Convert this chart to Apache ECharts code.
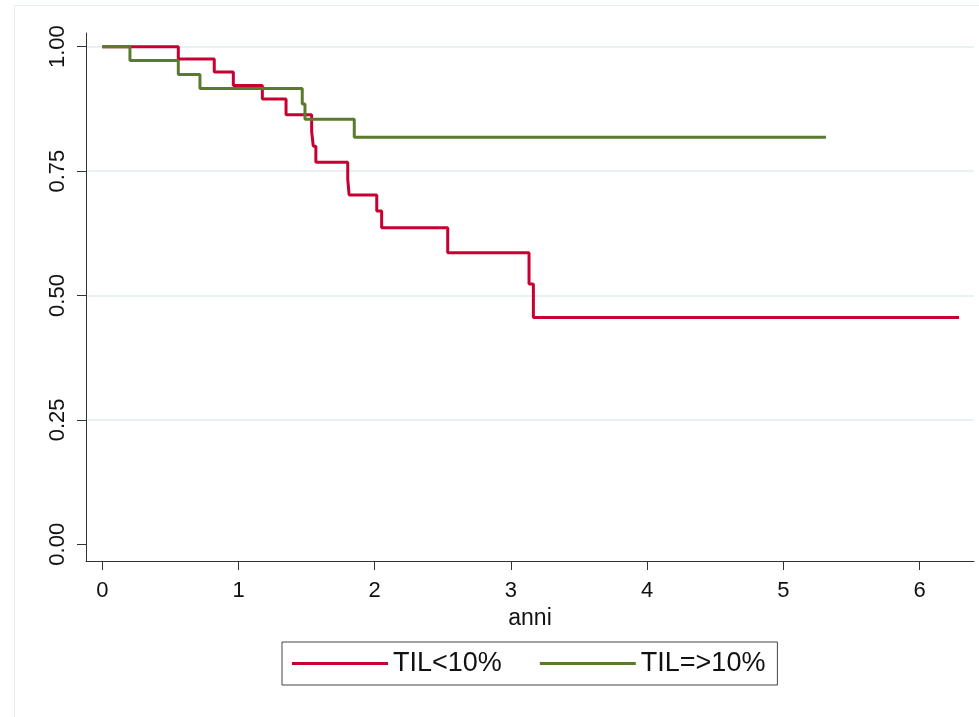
<!DOCTYPE html>
<html>
<head>
<meta charset="utf-8">
<script src="https://cdn.jsdelivr.net/npm/echarts@6/dist/echarts.min.js"></script>
<style>
html,body{margin:0;padding:0;background:#fff;}
#chart{width:979px;height:717px;}
</style>
</head>
<body>
<div id="chart"></div>
<script>
// Kaplan-Meier step data
const seriesNames = ['TIL<10%', 'TIL=>10%'];
const redTimes = [0, 0.558, 0.822, 0.962, 1.175, 1.349, 1.537, 1.549, 1.568, 1.802, 1.812, 2.015, 2.051, 2.536, 3.133, 3.165, 6.29];
const redSurv  = [1, 0.975, 0.949, 0.922, 0.895, 0.863, 0.830, 0.800, 0.768, 0.734, 0.702, 0.670, 0.636, 0.586, 0.523, 0.456, 0.456];
const greenTimes = [0, 0.203, 0.558, 0.717, 1.468, 1.488, 1.850, 5.313];
const greenSurv  = [1, 0.972, 0.944, 0.916, 0.885, 0.854, 0.818, 0.818];
const xTicks = [0, 1, 2, 3, 4, 5, 6];
const yTicks = [0, 0.25, 0.5, 0.75, 1];
const yGridTicks = [0.25, 0.5, 0.75, 1];
const xTitle = 'anni';

const FONT = '"Liberation Sans", Arial, sans-serif';
const toPairs = (xs, ys) => xs.map((x, i) => [x, ys[i]]);

const chart = echarts.init(document.getElementById('chart'), null, {renderer: 'canvas'});
chart.setOption({
  animation: false,
  backgroundColor: '#ffffff',
  graphic: [{
    type: 'rect', silent: true, z: -10,
    shape: {x: 14.5, y: 5.5, width: 1100, height: 1100},
    style: {fill: 'none', stroke: '#e4edf1', lineWidth: 1}
  }],
  grid: {left: 86, top: 33, right: 5, bottom: 156, containLabel: false},
  legend: {
    left: 282, top: 642,
    data: seriesNames,
    icon: 'rect',
    itemWidth: 96, itemHeight: 3, itemGap: 38,
    padding: [8, 12, 8, 10],
    borderColor: '#444', borderWidth: 1,
    textStyle: {fontFamily: FONT, fontSize: 27, color: '#111'}
  },
  xAxis: {
    type: 'value', min: -0.1197, max: 6.40,
    name: xTitle, nameLocation: 'middle', nameGap: 38,
    nameTextStyle: {fontFamily: FONT, fontSize: 23, color: '#111'},
    axisLine: {show: true, onZero: false, lineStyle: {color: '#333', width: 1}},
    axisTick: {show: true, length: 9, customValues: xTicks, lineStyle: {color: '#333'}},
    axisLabel: {customValues: xTicks, margin: 19, fontFamily: FONT, fontSize: 22, color: '#111'},
    splitLine: {show: false}
  },
  yAxis: [{
    type: 'value', min: -0.0336, max: 1.0275,
    axisLine: {show: true, onZero: false, lineStyle: {color: '#333', width: 1}},
    axisTick: {show: true, length: 9, customValues: yTicks, lineStyle: {color: '#333'}},
    axisLabel: {customValues: yTicks, rotate: 90, margin: 17, fontFamily: FONT, fontSize: 22, color: '#111',
      formatter: v => v.toFixed(2)},
    splitLine: {show: false}
  }, {
    type: 'value', min: -0.0336, max: 1.0275, position: 'left',
    axisLine: {show: false},
    axisTick: {show: false, customValues: yGridTicks},
    axisLabel: {show: false, customValues: yGridTicks},
    splitLine: {show: true, lineStyle: {color: '#e3edf1', width: 1.5}}
  }],
  series: [{
    name: seriesNames[0], type: 'line', step: 'end', yAxisIndex: 0,
    data: toPairs(redTimes, redSurv),
    showSymbol: false, symbol: 'none',
    itemStyle: {color: '#c80032'},
    lineStyle: {color: '#c80032', width: 3}
  }, {
    name: seriesNames[1], type: 'line', step: 'end', yAxisIndex: 0,
    data: toPairs(greenTimes, greenSurv),
    showSymbol: false, symbol: 'none',
    itemStyle: {color: '#5a7b2d'},
    lineStyle: {color: '#5a7b2d', width: 3}
  }]
});
</script>
</body>
</html>
